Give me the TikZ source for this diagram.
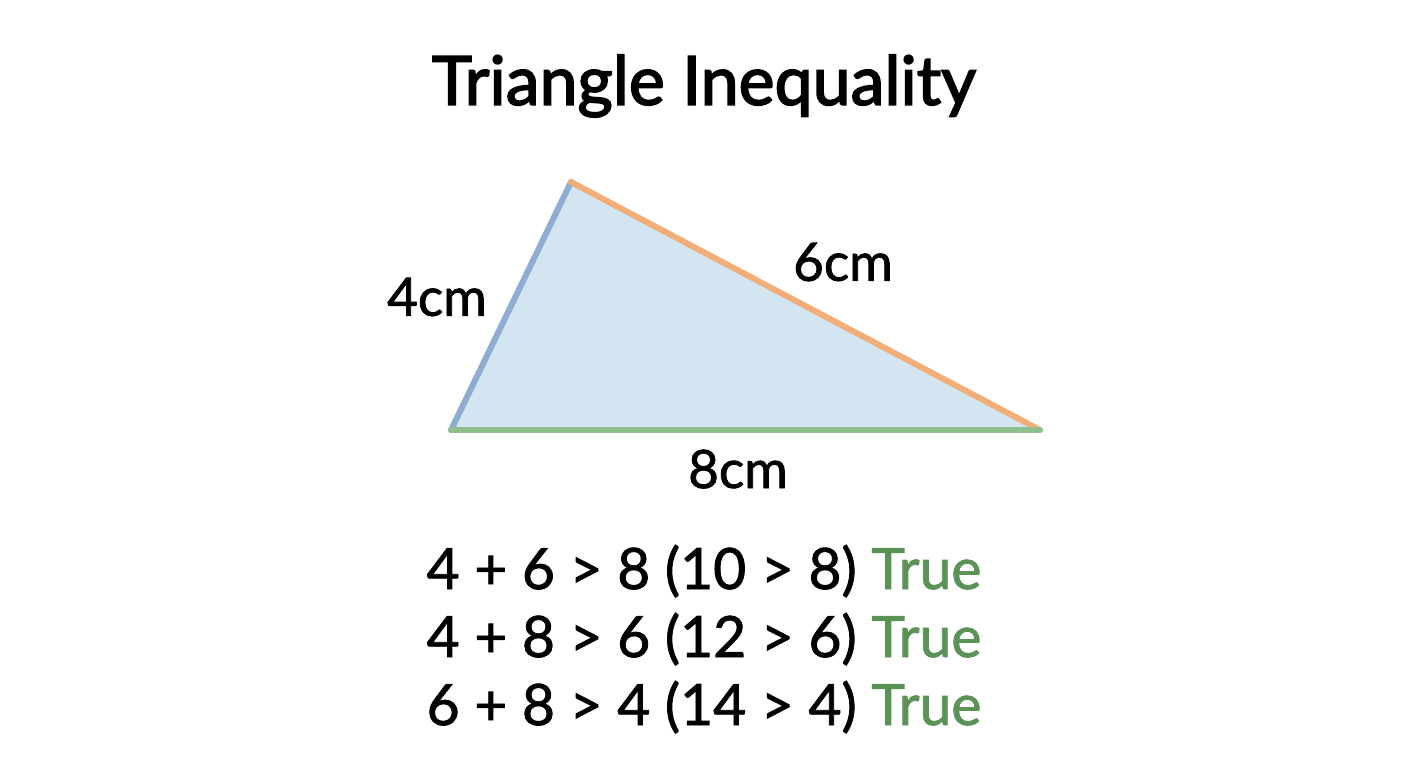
\documentclass[tikz,border=0pt]{standalone}
\usepackage{fontspec}
\setmainfont{Lato}[FakeBold=1.4]
\newfontfamily\titlefont{Lato}[FakeBold=2.4]
\definecolor{triFill}{HTML}{D2E5F1}
\definecolor{sideA}{HTML}{8FADD3}
\definecolor{sideB}{HTML}{F2AE78}
\definecolor{sideC}{HTML}{8FBF8A}
\definecolor{okGreen}{HTML}{5B9256}
\begin{document}
\begin{tikzpicture}
  [
    x=0.5pt, y=-0.5pt,
    side/.style={line width=3pt, line cap=round},
    sidelabel/.style={font=\fontsize{26.5}{32}\selectfont},
    check/.style={font=\fontsize{28.5}{34}\selectfont, anchor=base},
  ]

  % frame
  \useasboundingbox (0,0) rectangle (1408,768);

  % title
  \node (title) at (704,86) {\titlefont\fontsize{34}{40}\selectfont Triangle Inequality};

  % vertices
  \coordinate (A) at (451,430);
  \coordinate (B) at (571,182);
  \coordinate (C) at (1040,430);

  % triangle
  \fill [triFill] (A) -- (B) -- (C) -- cycle;
  \draw [side, sideA] (A) -- (B);
  \draw [side, sideB] (B) -- (C);
  \draw [side, sideC] (A) -- (C);

  % side lengths
  \node [sidelabel] (lenA) at (437,297) {4cm};
  \node [sidelabel] (lenB) at (843,262) {6cm};
  \node [sidelabel] (lenC) at (738,469) {8cm};

  % checks
  \foreach \i/\a/\b/\c/\s in {0/4/6/8/10, 1/4/8/6/12, 2/6/8/4/14} {
    \node [check] (check\i) at (704, 589 + 68*\i)
      {\a{} + \b{} > \c{} (\s{} > \c) \textcolor{okGreen}{True}};
  }
\end{tikzpicture}
\end{document}
